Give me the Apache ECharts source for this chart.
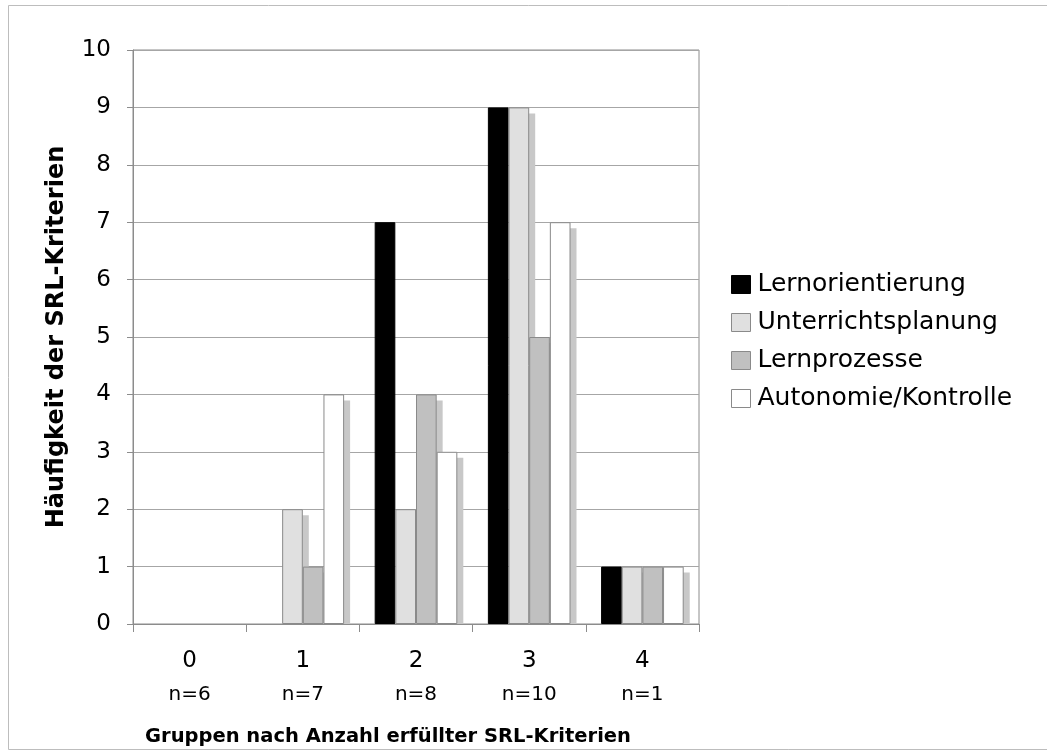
<!DOCTYPE html>
<html>
<head>
<meta charset="utf-8">
<script src="https://cdn.jsdelivr.net/npm/echarts@6/dist/echarts.min.js"></script>
<style>
  html, body { margin: 0; padding: 0; background: #ffffff; }
  #chart { width: 1047px; height: 751px; }
</style>
</head>
<body>
<div id="chart"></div>
<script>
// Groups by number of fulfilled SRL criteria, with group sizes
const categories = ['0', '1', '2', '3', '4'];
const groupSizes = ['n=6', 'n=7', 'n=8', 'n=10', 'n=1'];

// Frequency per SRL criterion in each group
const seriesNames = ['Lernorientierung', 'Unterrichtsplanung', 'Lernprozesse', 'Autonomie/Kontrolle'];
const lernorientierung   = [0, 0, 7, 9, 1];
const unterrichtsplanung = [0, 2, 2, 9, 1];
const lernprozesse       = [0, 1, 4, 5, 1];
const autonomie          = [0, 4, 3, 7, 1];
const seriesValues = [lernorientierung, unterrichtsplanung, lernprozesse, autonomie];

const yTicks = { min: 0, max: 10, interval: 1 };

const FONT = '"DejaVu Sans", Verdana, sans-serif';
const fills = ['#000000', '#e0e0e0', '#c0c0c0', '#ffffff'];
const borders = ['#000000', '#8a8a8a', '#8a8a8a', '#8a8a8a'];
const hasShadow = [false, true, true, true];
const CAT_GAP = 0.27;       // share of a category band left empty
const SHADOW_OFF = 6;       // px offset of the drop shadow
const SHADOW_COLOR = '#c8c8c8';

// one shadow rectangle per non-zero bar: [category, value, seriesIndex]
const shadowData = [];
seriesValues.forEach((vals, s) => {
  if (!hasShadow[s]) return;
  vals.forEach((v, c) => { if (v > 0) shadowData.push([c, v, s]); });
});

const chart = echarts.init(document.getElementById('chart'), null, { renderer: 'canvas' });

const barSeries = seriesNames.map((name, i) => ({
  name: name,
  type: 'bar',
  z: 3,
  // empty bars get no outline
  data: seriesValues[i].map(v => v === 0 ? { value: 0, itemStyle: { borderWidth: 0 } } : v),
  barGap: '0%',
  barCategoryGap: (CAT_GAP * 100) + '%',
  itemStyle: { color: fills[i], borderColor: borders[i], borderWidth: 1 },
  emphasis: { disabled: true },
  animation: false
}));

const shadowSeries = {
  type: 'custom',
  z: 2,
  silent: true,
  animation: false,
  encode: { x: 0, y: 1 },
  data: shadowData,
  renderItem: function (params, api) {
    const c = api.value(0), v = api.value(1), s = api.value(2);
    const base = api.coord([c, 0]);
    const top = api.coord([c, v])[1];
    const band = api.size([1, 0])[0];
    const n = seriesNames.length;
    const w = band * (1 - CAT_GAP) / n;
    const x = base[0] - (w * n) / 2 + s * w;
    return {
      type: 'rect',
      shape: { x: x + SHADOW_OFF, y: top + SHADOW_OFF, width: w, height: base[1] - top - SHADOW_OFF },
      style: { fill: SHADOW_COLOR }
    };
  }
};

chart.setOption({
  animation: false,
  backgroundColor: '#ffffff',
  textStyle: { fontFamily: FONT },
  grid: {
    left: 133, right: 348, top: 50, bottom: 127,
    show: true, borderColor: '#8c8c8c', borderWidth: 1
  },
  legend: {
    orient: 'vertical',
    left: 731, top: 272,
    padding: 0,
    itemWidth: 19, itemHeight: 18,
    itemGap: 13,
    icon: 'rect',
    selectedMode: false,
    data: seriesNames.map((name, i) => ({
      name: name,
      itemStyle: { color: fills[i], borderColor: borders[i], borderWidth: 1 }
    })),
    textStyle: { fontFamily: FONT, fontSize: 25, color: '#000000', padding: [0, 0, 0, 2] }
  },
  xAxis: {
    type: 'category',
    data: categories,
    axisLine: { show: true, lineStyle: { color: '#8c8c8c', width: 1 } },
    axisTick: { show: true, length: 8, lineStyle: { color: '#8c8c8c' } },
    axisLabel: {
      margin: 20,
      formatter: function (val, idx) { return '{c|' + val + '}\n{n|' + groupSizes[idx] + '}'; },
      rich: {
        c: { fontFamily: FONT, fontSize: 23, lineHeight: 34, color: '#000000' },
        n: { fontFamily: FONT, fontSize: 20, lineHeight: 34, color: '#000000' }
      }
    },
    splitLine: { show: false }
  },
  yAxis: {
    type: 'value',
    min: yTicks.min, max: yTicks.max, interval: yTicks.interval,
    axisLine: { show: true, lineStyle: { color: '#8c8c8c', width: 1 } },
    axisTick: { show: true, inside: false, length: 6, lineStyle: { color: '#8c8c8c' } },
    axisLabel: { margin: 22, fontFamily: FONT, fontSize: 23, color: '#000000' },
    splitLine: { show: true, lineStyle: { color: '#a6a6a6', width: 1 } }
  },
  graphic: [
    {
      // outer frame; its right edge lies beyond the canvas
      type: 'rect', silent: true, z: -1,
      shape: { x: 8.5, y: 5.5, width: 1100, height: 744 },
      style: { fill: 'none', stroke: '#bdbdbd', lineWidth: 1 }
    },
    {
      type: 'text', silent: true,
      x: 57, y: 337, rotation: Math.PI / 2,
      style: {
        text: 'Häufigkeit der SRL-Kriterien',
        font: 'bold 24px ' + FONT, fill: '#000000',
        align: 'center', verticalAlign: 'middle'
      }
    },
    {
      type: 'text', silent: true,
      x: 388, y: 737,
      style: {
        text: 'Gruppen nach Anzahl erfüllter SRL-Kriterien',
        font: 'bold 19.5px ' + FONT, fill: '#000000',
        align: 'center', verticalAlign: 'middle'
      }
    }
  ],
  series: barSeries.concat([shadowSeries])
});
</script>
</body>
</html>
